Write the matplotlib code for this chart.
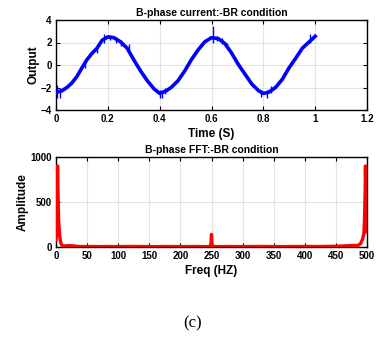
import matplotlib
matplotlib.use("Agg")
import matplotlib.pyplot as plt

plt.rcParams['font.family'] = ['Liberation Sans', 'DejaVu Sans']

# --- top panel: B-phase current (time in s, output) ---
t_vals = [0.0, 0.022, 0.042, 0.061, 0.08, 0.1, 0.119, 0.139, 0.158, 0.178, 0.2,
          0.223, 0.249, 0.275, 0.3, 0.327, 0.353, 0.379, 0.4, 0.425, 0.444,
          0.47, 0.496, 0.522, 0.548, 0.574, 0.6, 0.626, 0.652, 0.678, 0.704,
          0.73, 0.756, 0.782, 0.8, 0.82, 0.847, 0.873, 0.899, 0.925, 0.95,
          0.977, 1.0]
i_vals = [-2.43, -2.3, -2.0, -1.6, -1.05, -0.26, 0.46, 1.04, 1.48, 2.2, 2.5,
          2.43, 2.06, 1.48, 0.46, -0.55, -1.42, -2.14, -2.52, -2.3, -2.0,
          -1.42, -0.55, 0.46, 1.33, 2.06, 2.43, 2.35, 1.9, 1.04, 0.03,
          -0.84, -1.71, -2.29, -2.52, -2.43, -2.0, -1.28, -0.26, 0.6, 1.48,
          2.06, 2.55]
# noise spikes: time, low, high
spike_t = [0.005, 0.015, 0.11, 0.158, 0.185, 0.21, 0.23, 0.25, 0.28, 0.40, 0.41,
           0.42, 0.605, 0.62, 0.64, 0.66, 0.79, 0.815, 0.83, 0.98]
spike_lo = [-2.9, -2.9, -0.3, 1.1, 2.0, 2.2, 2.0, 1.7, 1.3, -2.9, -2.9,
            -2.6, 2.0, 2.1, 1.9, 1.4, -2.8, -2.9, -2.5, 2.0]
spike_hi = [-1.8, -2.0, 0.3, 1.8, 2.8, 2.7, 2.5, 2.2, 1.9, -2.2, -2.3,
            -2.0, 3.5, 2.6, 2.4, 2.0, -2.2, -2.2, -1.9, 2.8]

# --- bottom panel: FFT ---
f_vals = [0, 1, 2, 2.5, 3, 4, 5, 6, 7, 8, 10, 12, 15, 20, 25, 30, 35, 40, 50, 60,
          70, 80, 100, 120, 150, 180, 200, 220, 240, 248, 249, 250, 251, 252, 260,
          280, 300, 330, 350, 380, 400, 420, 450, 470, 480, 485, 490, 493, 495,
          496, 497, 497.5, 498, 499, 500]
a_vals = [80, 150, 600, 900, 700, 350, 200, 120, 70, 40, 15, 8, 12, 15, 14, 10, 6, 5, 4, 6,
          4, 5, 4, 6, 4, 5, 4, 5, 4, 6, 20, 140, 20, 6, 4,
          5, 4, 6, 4, 5, 6, 5, 8, 14, 18, 15, 40, 90, 150,
          300, 600, 900, 700, 300, 170]

fig = plt.figure(figsize=(3.77, 3.48), dpi=100)
W, H = 377, 348
ax1 = fig.add_axes([56 / W, 1 - 110 / H, 311 / W, 90 / H])
ax2 = fig.add_axes([56 / W, 1 - 247 / H, 311 / W, 90 / H])

blue = '#0000ff'
ax1.plot(t_vals, i_vals, color=blue, lw=2.6, zorder=3)
ax1.vlines(spike_t, spike_lo, spike_hi, color=blue, lw=1.0, zorder=3)
ax1.set_xlim(0, 1.2)
ax1.set_ylim(-4, 4)
ax1.set_xticks([0, 0.2, 0.4, 0.6, 0.8, 1, 1.2])
ax1.set_xticklabels(['0', '0.2', '0.4', '0.6', '0.8', '1', '1.2'])
ax1.set_yticks([-4, -2, 0, 2, 4])
ax1.set_title('B-phase current:-BR condition', fontsize=7.5, fontweight='bold', pad=3)
ax1.set_xlabel('Time (S)', fontsize=8.5, fontweight='bold', labelpad=3)
ax1.set_ylabel('Output', fontsize=8.5, fontweight='bold', labelpad=1)

red = '#ff0000'
ax2.plot(f_vals, a_vals, color=red, lw=2.4, zorder=3)
ax2.set_xlim(0, 500)
ax2.set_ylim(0, 1000)
ax2.set_xticks(list(range(0, 501, 50)))
ax2.set_yticks([0, 500, 1000])
ax2.set_title('B-phase FFT:-BR condition', fontsize=7.5, fontweight='bold', pad=3)
ax2.set_xlabel('Freq (HZ)', fontsize=8.5, fontweight='bold', labelpad=3)
ax2.set_ylabel('Amplitude', fontsize=8.5, fontweight='bold', labelpad=1)

for ax in (ax1, ax2):
    ax.grid(True, color='#e3e3e3', lw=0.8, zorder=0)
    ax.set_axisbelow(True)
    ax.tick_params(direction='in', top=True, right=True, length=3, width=0.8,
                   labelsize=7, pad=3)
    for lab in ax.get_xticklabels() + ax.get_yticklabels():
        lab.set_fontweight('bold')
    for s in ax.spines.values():
        s.set_linewidth(1.0)

fig.text(193 / W, 1 - 323 / H, '(c)', ha='center', va='center', fontsize=12,
         family=['Liberation Serif', 'DejaVu Serif'])

fig.savefig('out.png', dpi=100)
